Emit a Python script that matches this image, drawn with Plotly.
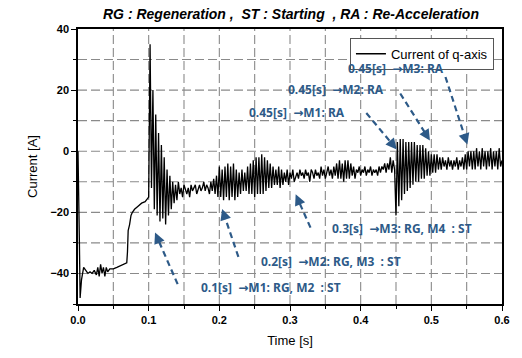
import numpy as np
import plotly.graph_objects as go

# ---- data ----
# start-up segment (irregular sampling), time [s] / current [A]
t_start = [0.000, 0.001, 0.002, 0.003, 0.004, 0.005, 0.008, 0.011, 0.014, 0.017,
           0.020, 0.023, 0.026, 0.028, 0.030, 0.032, 0.034, 0.036, 0.038, 0.040,
           0.042, 0.045, 0.050, 0.055, 0.060, 0.065, 0.069, 0.070, 0.071, 0.073,
           0.075, 0.077, 0.080, 0.085, 0.090, 0.095, 0.099]
i_start = [0, -10, -30, -48, -44, -42, -38, -39, -40, -39.5,
           -40, -39, -40.5, -38, -41, -37, -40, -38, -41, -38,
           -39.5, -38.5, -38.5, -38, -37.5, -37, -36.5, -33, -26, -24,
           -21, -20, -19, -18, -17, -16.5, -15.5]

# main segment, sampled every 2 ms from 0.100 s to 0.600 s
t_main_first = 0.100
t_main_step = 0.002
i_main = [
    -15, 35, -12, 20, -19, 12, -21, 6, -23, 2,        # 0.100
    -22, -2, -24, -6, -21, -8, -19, -10, -17, -11,    # 0.120
    -16, -10, -14, -12, -15, -11, -13, -14, -12, -15, # 0.140
    -11, -13, -12, -11, -14, -12, -11, -13, -12, -10, # 0.160
    -13, -11, -12, -14, -10, -13, -9, -14, -8, -15,   # 0.180
    -5, -15, -6, -16, -5, -15, -4, -16, -5, -15,      # 0.200
    -4, -16, -6, -15, -7, -14, -6, -13, -7, -13,      # 0.220
    -5, -14, -4, -14, -3, -15, -2, -14, -2, -14,      # 0.240
    -1, -14, -2, -13, -3, -12, -4, -12, -5, -11,      # 0.260
    -6, -11, -5, -12, -6, -11, -7, -10, -6, -11,      # 0.280
    -7, -9, -6, -10, -8, -7, -9, -6, -8, -7,          # 0.300
    -9, -6, -8, -7, -10, -6, -7, -9, -6, -8,          # 0.320
    -7, -9, -5, -8, -6, -9, -7, -5, -8, -6,           # 0.340
    -9, -5, -8, -4, -9, -3, -9, -4, -10, -3,          # 0.360
    -9, -3, -9, -4, -8, -5, -9, -6, -7, -5,           # 0.380
    -8, -6, -7, -5, -8, -6, -7, -5, -8, -6,           # 0.400
    -7, -6, -8, -5, -7, -5, -6, -4, -7, -4,           # 0.420
    -6, -2, -7, -3, -6, -21, 3, -18, 4, -16,          # 0.440
    4, -14, 3, -13, 3, -12, 3, -11, 3, -10,           # 0.460
    2, -10, 2, -9, 2, -9, 1, -8, 0, -8,               # 0.480
    -1, -7, -1, -7, -1, -6, -2, -6, -2, -5,           # 0.500
    -3, -6, -2, -5, -3, -6, -3, -5, -2, -6,           # 0.520
    -3, -5, -2, -6, -1, -6, 0, -5, 0, -6,             # 0.540
    0, -6, 1, -5, 0, -6, 1, -5, 0, -6,                # 0.560
    0, -5, 1, -6, 0, -5, 0, -6, 1, -5,                # 0.580
    -3,                                               # 0.600
]
t_main = [round(t_main_first + t_main_step * k, 4) for k in range(len(i_main))]

x_ticks = [0.0, 0.1, 0.2, 0.3, 0.4, 0.5, 0.6]
y_ticks = [-40, -20, 0, 20, 40]
x_grid = [0.05, 0.1, 0.15, 0.2, 0.25, 0.3, 0.35, 0.4, 0.45, 0.5, 0.55]
y_grid = [-40, -30, -20, -10, 0, 10, 20, 30]
x_range = [0, 0.6]
y_range = [-50, 40]

# annotation texts
notes = [
    "0.45[s]  \u2192M3: RA",
    "0.45[s]  \u2192M2: RA",
    "0.45[s]  \u2192M1: RA",
    "0.3[s]  \u2192M3: RG, M4  : ST",
    "0.2[s]  \u2192M2: RG, M3  : ST",
    "0.1[s]  \u2192M1: RG, M2  : ST",
]
note_pos = [(0.450, 27.2), (0.365, 20.2), (0.310, 12.8),
            (0.459, -25.3), (0.358, -36.2), (0.273, -44.5)]
arrows = [  # (start t, start i, tip t, tip i)
    (0.520, 24.3, 0.551, 2.2),
    (0.456, 18.9, 0.498, 3.5),
    (0.408, 12.5, 0.451, 0.6),
    (0.329, -25.0, 0.308, -14.1),
    (0.227, -34.6, 0.204, -18.9),
    (0.141, -43.5, 0.109, -26.6),
]

# ---- figure ----
t_all = t_start + t_main
i_all = i_start + i_main

fig = go.Figure()
fig.add_trace(go.Scatter(x=t_all, y=i_all, mode="lines",
                         line=dict(color="black", width=1.3),
                         name="Current of q-axis"))

# dashed grid (drawn under the data)
grid_line = dict(color="#8a8a8a", width=1.1, dash="9px,4px")
for gx in x_grid:
    fig.add_shape(type="line", xref="x", yref="paper", x0=gx, x1=gx, y0=0, y1=1,
                  line=grid_line, layer="below")
for gy in y_grid:
    fig.add_shape(type="line", xref="paper", yref="y", x0=0, x1=1, y0=gy, y1=gy,
                  line=grid_line, layer="below")

fig.update_layout(
    width=522, height=358,
    margin=dict(l=78, r=12, t=29, b=48),
    paper_bgcolor="white", plot_bgcolor="white",
    showlegend=True,
    legend=dict(x=0.981, y=0.968, xanchor="right", yanchor="top",
                bgcolor="white", bordercolor="#555", borderwidth=1,
                font=dict(size=13, family="Liberation Sans", color="black")),
    xaxis=dict(range=x_range, tickvals=x_ticks, tickformat=".1f",
               ticks="outside", ticklen=5, showline=True, linecolor="black",
               linewidth=1.5, mirror=True, showgrid=False,
               minor=dict(dtick=0.05, tick0=0, ticks="outside", ticklen=3,
                          tickcolor="black", showgrid=False),
               zeroline=False),
    yaxis=dict(range=y_range, tickvals=y_ticks, ticks="outside", ticklen=5,
               showline=True, linecolor="black", linewidth=1.5, mirror=True,
               showgrid=False,
               minor=dict(dtick=10, tick0=0, ticks="outside", ticklen=3,
                          tickcolor="black", showgrid=False),
               zeroline=False),
)
tickfont = dict(size=11, family="Liberation Sans", weight="bold", color="black")
fig.update_xaxes(tickfont=tickfont, tickcolor="black",
                 title=dict(text="Time [s]", standoff=11,
                            font=dict(size=13, family="Liberation Sans", color="black")))
fig.update_yaxes(tickfont=tickfont, tickcolor="black",
                 title=dict(text="Current [A]", standoff=10,
                            font=dict(size=13, family="Liberation Sans", color="black")))
fig.update_layout(
    title=dict(text="<b><i>RG : Regeneration ,  ST : Starting  , RA : Re-Acceleration</i></b>",
               x=291 / 522, xanchor="center", y=1 - 14 / 358, yanchor="middle",
               font=dict(size=14, family="Liberation Sans", color="black")))

blue = "#2d5a88"
PX_X = 720.0   # px per second (for arrow direction)
PX_Y = 3.125   # px per ampere
for txt, (xa, ya) in zip(notes, note_pos):
    fig.add_annotation(x=xa, y=ya, text="<b>" + txt + "</b>", showarrow=False,
                       font=dict(family="Noto Sans, DejaVu Sans", size=12, color=blue),
                       xanchor="center", yanchor="middle")
for (x0, y0, x1, y1) in arrows:
    dxp = (x0 - x1) * PX_X
    dyp = -(y0 - y1) * PX_Y
    n = (dxp ** 2 + dyp ** 2) ** 0.5
    ux, uy = dxp / n, dyp / n
    back = 6.0
    fig.add_shape(type="line", x0=x0, y0=y0,
                  x1=x1 + ux * back / PX_X, y1=y1 - uy * back / PX_Y,
                  line=dict(color=blue, width=2.2, dash="6px,4px"))
    fig.add_annotation(x=x1, y=y1, ax=float(ux * 9), ay=float(uy * 9), text="",
                       showarrow=True, arrowhead=2, arrowsize=1.1,
                       arrowwidth=2, arrowcolor=blue)

fig.write_html("out.html")
